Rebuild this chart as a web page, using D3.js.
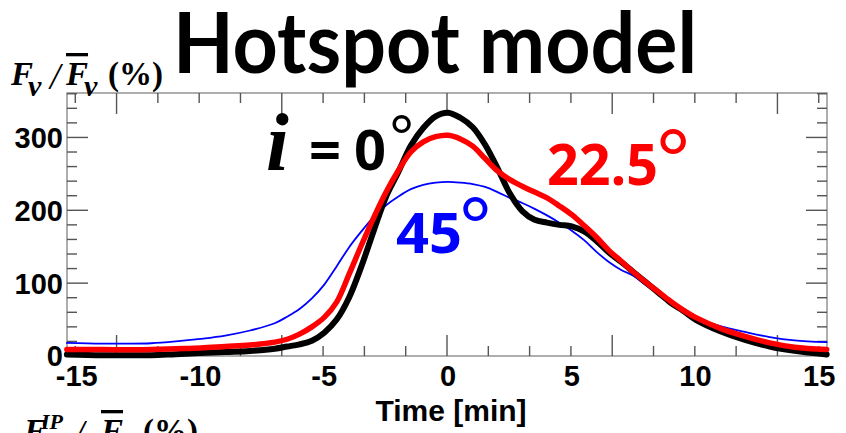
<!DOCTYPE html>
<html>
<head>
<meta charset="utf-8">
<script src="https://cdn.jsdelivr.net/npm/d3@7"></script>
<style>
  html, body { margin: 0; padding: 0; background: #fff; }
  svg { display: block; }
</style>
</head>
<body>
<svg id="chart" width="846" height="433"></svg>
<script>
// Time axis (minutes) shared by the three light curves
const times = [-15.4, -14, -13, -12, -11, -10, -9, -8, -7,
  -6.5, -6, -5.5, -5, -4.5, -4, -3.5, -3, -2.5, -2, -1.5, -1, -0.5, 0,
  0.5, 1, 1.5, 2, 2.5, 3, 3.5, 4, 4.5, 5, 5.5, 6, 6.5, 7, 7.5, 8, 8.5, 9, 9.5, 10,
  11, 12, 13, 14, 15.3];

// Normalised flux F_nu / <F_nu> (%) for each inclination
const flux0 = [2, 1, 1, 1, 2.5, 4, 5.5, 7, 10,
  13, 16, 21, 32, 50, 80, 123, 172, 219, 253, 289, 313, 329, 334,
  327, 314, 290, 258, 223, 199, 187, 183, 180, 178, 171, 158, 142, 129, 115, 101, 87, 73, 62, 50,
  34, 22, 13, 7, 2];
const flux22 = [9, 9, 8.5, 9, 10, 11, 13, 15, 19,
  23, 30, 40, 53, 74, 112, 152, 190, 225, 255, 280, 294, 301, 303,
  298, 288, 271, 254, 242, 233, 225, 217, 206, 194, 179, 163, 145, 130, 115, 101, 88, 75, 63, 53,
  38, 27, 18, 12, 9];
const flux45 = [18, 17, 17, 17.5, 20, 23.5, 28, 35, 45,
  54, 64.5, 79, 98, 123, 149, 171, 191, 207, 219, 229, 235, 238, 239,
  238, 236, 232, 225, 217, 210, 202, 193, 183, 172, 159, 143, 129, 118, 110, 97, 86, 74, 62, 52,
  41, 33, 26, 21.5, 19];

// Axis labels
const xTickLabels = [-15, -10, -5, 0, 5, 10, 15];
const yTickLabels = [0, 100, 200, 300];
const seriesNames = ["0", "22.5", "45"];
const seriesColors = ["#000000", "#ff0000", "#0000ff"];

// Layout
const W = 846, H = 433;
const plot = { left: 67, right: 827, top: 93, bottom: 356 };

const svg = d3.select("#chart");
svg.append("rect").attr("width", W).attr("height", H).attr("fill", "#fff");

const x = d3.scaleLinear().domain([-15, 15]).range([76.75, 819.25]);
const y = d3.scaleLinear().domain([0, 361]).range([plot.bottom, plot.top]);
// frame tick marks follow their own regular spacing
const frameX = d3.scaleLinear().domain([-23, 23]).range([plot.left, plot.right]);

const sans = "'Liberation Sans', Arial, sans-serif";
const serif = "'Liberation Serif', 'Times New Roman', serif";
const deco = "Lato, 'Open Sans', sans-serif";
const digits = "'Open Sans', Lato, sans-serif";

// ---- frame ----
const frame = svg.append("g");
frame.append("rect")
  .attr("x", plot.left).attr("y", plot.top)
  .attr("width", plot.right - plot.left).attr("height", plot.bottom - plot.top)
  .attr("fill", "none").attr("stroke", "#9a9a9a").attr("stroke-width", 1.6);

const tickColor = "#555";
const xMinor = d3.range(-22.5, 23, 2.5);
xMinor.forEach(v => {
  const major = Math.abs(v % 10) < 1e-9;
  const len = major ? 21 : 10;
  const px = frameX(v);
  frame.append("line").attr("x1", px).attr("x2", px)
    .attr("y1", plot.bottom).attr("y2", plot.bottom - len)
    .attr("stroke", tickColor).attr("stroke-width", 1.4);
  frame.append("line").attr("x1", px).attr("x2", px)
    .attr("y1", plot.top).attr("y2", plot.top + len)
    .attr("stroke", tickColor).attr("stroke-width", 1.4);
});
const yMinor = d3.range(20, 361, 20);
yMinor.forEach(v => {
  const major = v % 100 === 0;
  const len = major ? 21 : 10;
  const py = y(v);
  frame.append("line").attr("x1", plot.left).attr("x2", plot.left + len)
    .attr("y1", py).attr("y2", py)
    .attr("stroke", tickColor).attr("stroke-width", 1.4);
  frame.append("line").attr("x1", plot.right).attr("x2", plot.right - len)
    .attr("y1", py).attr("y2", py)
    .attr("stroke", tickColor).attr("stroke-width", 1.4);
});

// ---- tick labels ----
svg.append("g").selectAll("text").data(xTickLabels).join("text")
  .attr("x", d => x(d)).attr("y", 386)
  .attr("text-anchor", "middle")
  .attr("font-family", sans).attr("font-weight", "bold").attr("font-size", 29)
  .attr("fill", "#000")
  .text(d => d);

svg.append("g").selectAll("text").data(yTickLabels).join("text")
  .attr("x", 63).attr("y", d => y(d))
  .attr("dy", "0.36em")
  .attr("text-anchor", "end")
  .attr("font-family", sans).attr("font-weight", "bold").attr("font-size", 29)
  .attr("fill", "#000")
  .text(d => d);

svg.append("text")
  .attr("x", 451).attr("y", 421)
  .attr("text-anchor", "middle")
  .attr("font-family", sans).attr("font-weight", "bold").attr("font-size", 30)
  .text("Time [min]");

// ---- y-axis title: F_nu / mean F_nu (%) ----
function fluxLabel(baseY, x0, withIP) {
  const t = svg.append("text")
    .attr("font-family", serif).attr("font-weight", "bold").attr("font-size", 33)
    .attr("fill", "#000");
  t.append("tspan").attr("x", x0).attr("y", baseY).attr("font-style", "italic").text("F");
  if (withIP) {
    t.append("tspan").attr("x", x0 + 17).attr("y", baseY - 13)
      .attr("font-style", "italic").attr("font-size", 22).text("IP");
  }
  t.append("tspan").attr("x", x0 + 17).attr("y", baseY + 11)
    .attr("font-style", "italic").attr("font-size", 30).text("ν");
  const g = withIP ? [50, 77, 96, 119] : [39, 55, 73, 97];
  t.append("tspan").attr("x", x0 + g[0]).attr("y", baseY + 4)
    .attr("font-style", "italic").attr("font-size", 37).attr("font-weight", "normal").text("/");
  t.append("tspan").attr("x", x0 + g[1]).attr("y", baseY)
    .attr("font-style", "italic")
    .style("text-decoration", "overline").text("F");
  t.append("tspan").attr("x", x0 + g[2]).attr("y", baseY + 11)
    .attr("font-style", "italic").attr("font-size", 30).text("ν");
  t.append("tspan").attr("x", x0 + g[3]).attr("y", baseY).text("(%)");
}
fluxLabel(85, 11, false);
fluxLabel(442, 24, true);

// ---- title ----
svg.append("text")
  .attr("x", 173).attr("y", 73)
  .attr("font-family", deco).attr("font-weight", "bold").attr("font-size", 84)
  .attr("textLength", 524).attr("lengthAdjust", "spacingAndGlyphs")
  .text("Hotspot model");

// ---- curves ----
const line = d3.line()
  .x((d, i) => x(times[i]))
  .y(d => y(d))
  .curve(d3.curveCatmullRom.alpha(0.5));

const curves = svg.append("g").attr("fill", "none")
  .attr("stroke-linejoin", "round").attr("stroke-linecap", "round");
curves.append("path").datum(flux45).attr("d", line)
  .attr("stroke", seriesColors[2]).attr("stroke-width", 1.8);
curves.append("path").datum(flux0).attr("d", line)
  .attr("stroke", seriesColors[0]).attr("stroke-width", 6);
curves.append("path").datum(flux22).attr("d", line)
  .attr("stroke", seriesColors[1]).attr("stroke-width", 5.5);

// ---- inclination annotations ----
const ann = svg.append("g").attr("font-weight", "bold");
ann.append("text").attr("x", 266).attr("y", 170)
  .attr("font-family", serif).attr("font-style", "italic").attr("font-size", 82)
  .attr("fill", seriesColors[0]).text("i");
const eq = ann.append("text").attr("y", 170)
  .attr("font-family", digits).attr("font-size", 56)
  .attr("fill", seriesColors[0]);
eq.append("tspan").attr("x", 309).text("=");
eq.append("tspan").attr("x", 354).text(seriesNames[0]);
ann.append("text").attr("x", 390).attr("y", 156)
  .attr("font-family", deco).attr("font-size", 56).attr("font-weight", "normal")
  .attr("fill", seriesColors[0]).text("°");

ann.append("text").attr("x", 547).attr("y", 185)
  .attr("font-family", digits).attr("font-size", 57)
  .attr("textLength", 111).attr("lengthAdjust", "spacingAndGlyphs")
  .attr("fill", seriesColors[1]).text(seriesNames[1]);
ann.append("text").attr("x", 657).attr("y", 185)
  .attr("font-family", deco).attr("font-size", 78).attr("font-weight", "normal")
  .attr("fill", seriesColors[1]).text("°");

ann.append("text").attr("x", 396).attr("y", 253)
  .attr("font-family", digits).attr("font-size", 56)
  .attr("textLength", 66).attr("lengthAdjust", "spacingAndGlyphs")
  .attr("fill", seriesColors[2]).text(seriesNames[2]);
ann.append("text").attr("x", 460).attr("y", 251)
  .attr("font-family", deco).attr("font-size", 74).attr("font-weight", "normal")
  .attr("fill", seriesColors[2]).text("°");
</script>
</body>
</html>
